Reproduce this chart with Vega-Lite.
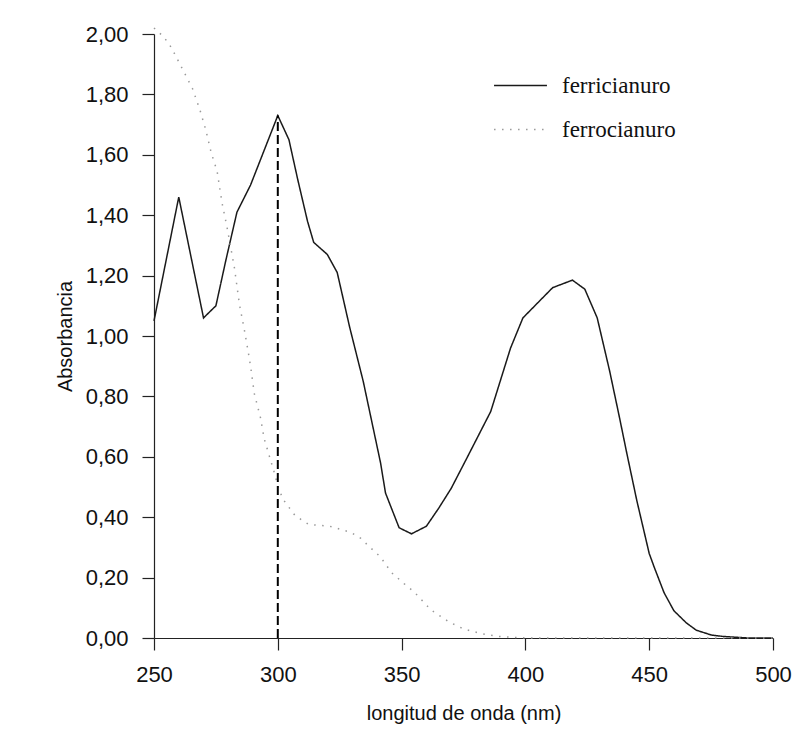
{
  "$schema": "https://vega.github.io/schema/vega-lite/v6.json",
  "width": 619,
  "height": 604,
  "autosize": {"type": "none"},
  "padding": {"left": 154, "top": 34, "right": 36, "bottom": 98},
  "background": "white",
  "config": {
    "view": {"stroke": null},
    "font": "Liberation Sans",
    "axis": {
      "grid": false,
      "domainColor": "#222",
      "tickColor": "#222",
      "labelColor": "#111",
      "titleColor": "#111",
      "labelFont": "Liberation Sans",
      "titleFont": "Liberation Sans",
      "labelFontSize": 22,
      "titleFontSize": 20,
      "titleFontWeight": "normal",
      "tickSize": 12,
      "domainWidth": 1.2,
      "tickWidth": 1.2,
      "labelFlush": false
    },
    "legend": {
      "orient": "none",
      "legendX": 339,
      "legendY": 24,
      "symbolType": "stroke",
      "symbolSize": 2800,
      "symbolStrokeWidth": 1.5,
      "labelFont": "Liberation Serif",
      "labelFontSize": 23,
      "labelColor": "#111",
      "labelOffset": 14,
      "rowPadding": 4
    }
  },
  "datasets": {
    "espectro": [
      {"nm": 250, "abs": 1.05, "serie": "ferricianuro"},
      {"nm": 260, "abs": 1.46, "serie": "ferricianuro"},
      {"nm": 270, "abs": 1.06, "serie": "ferricianuro"},
      {"nm": 275, "abs": 1.10, "serie": "ferricianuro"},
      {"nm": 279, "abs": 1.25, "serie": "ferricianuro"},
      {"nm": 283.5, "abs": 1.41, "serie": "ferricianuro"},
      {"nm": 289, "abs": 1.50, "serie": "ferricianuro"},
      {"nm": 300, "abs": 1.73, "serie": "ferricianuro"},
      {"nm": 304.5, "abs": 1.65, "serie": "ferricianuro"},
      {"nm": 308, "abs": 1.52, "serie": "ferricianuro"},
      {"nm": 312, "abs": 1.38, "serie": "ferricianuro"},
      {"nm": 314.5, "abs": 1.31, "serie": "ferricianuro"},
      {"nm": 320, "abs": 1.27, "serie": "ferricianuro"},
      {"nm": 324, "abs": 1.21, "serie": "ferricianuro"},
      {"nm": 329, "abs": 1.03, "serie": "ferricianuro"},
      {"nm": 334.5, "abs": 0.85, "serie": "ferricianuro"},
      {"nm": 341.5, "abs": 0.58, "serie": "ferricianuro"},
      {"nm": 343.5, "abs": 0.48, "serie": "ferricianuro"},
      {"nm": 349, "abs": 0.365, "serie": "ferricianuro"},
      {"nm": 354, "abs": 0.345, "serie": "ferricianuro"},
      {"nm": 360, "abs": 0.37, "serie": "ferricianuro"},
      {"nm": 365, "abs": 0.43, "serie": "ferricianuro"},
      {"nm": 370, "abs": 0.495, "serie": "ferricianuro"},
      {"nm": 376, "abs": 0.59, "serie": "ferricianuro"},
      {"nm": 381, "abs": 0.67, "serie": "ferricianuro"},
      {"nm": 386, "abs": 0.75, "serie": "ferricianuro"},
      {"nm": 394, "abs": 0.96, "serie": "ferricianuro"},
      {"nm": 399, "abs": 1.06, "serie": "ferricianuro"},
      {"nm": 405, "abs": 1.11, "serie": "ferricianuro"},
      {"nm": 411, "abs": 1.16, "serie": "ferricianuro"},
      {"nm": 419, "abs": 1.185, "serie": "ferricianuro"},
      {"nm": 424, "abs": 1.155, "serie": "ferricianuro"},
      {"nm": 429, "abs": 1.06, "serie": "ferricianuro"},
      {"nm": 434, "abs": 0.885, "serie": "ferricianuro"},
      {"nm": 438, "abs": 0.73, "serie": "ferricianuro"},
      {"nm": 441, "abs": 0.61, "serie": "ferricianuro"},
      {"nm": 445, "abs": 0.455, "serie": "ferricianuro"},
      {"nm": 450, "abs": 0.28, "serie": "ferricianuro"},
      {"nm": 452, "abs": 0.235, "serie": "ferricianuro"},
      {"nm": 456, "abs": 0.15, "serie": "ferricianuro"},
      {"nm": 460, "abs": 0.09, "serie": "ferricianuro"},
      {"nm": 465, "abs": 0.05, "serie": "ferricianuro"},
      {"nm": 469, "abs": 0.026, "serie": "ferricianuro"},
      {"nm": 475, "abs": 0.01, "serie": "ferricianuro"},
      {"nm": 480, "abs": 0.005, "serie": "ferricianuro"},
      {"nm": 490, "abs": 0.0, "serie": "ferricianuro"},
      {"nm": 500, "abs": 0.0, "serie": "ferricianuro"},
      {"nm": 250, "abs": 2.02, "serie": "ferrocianuro"},
      {"nm": 252, "abs": 2.005, "serie": "ferrocianuro"},
      {"nm": 254, "abs": 1.99, "serie": "ferrocianuro"},
      {"nm": 257, "abs": 1.955, "serie": "ferrocianuro"},
      {"nm": 260.5, "abs": 1.90, "serie": "ferrocianuro"},
      {"nm": 265.5, "abs": 1.82, "serie": "ferrocianuro"},
      {"nm": 268.5, "abs": 1.75, "serie": "ferrocianuro"},
      {"nm": 271, "abs": 1.68, "serie": "ferrocianuro"},
      {"nm": 273, "abs": 1.61, "serie": "ferrocianuro"},
      {"nm": 275.5, "abs": 1.545, "serie": "ferrocianuro"},
      {"nm": 277.5, "abs": 1.44, "serie": "ferrocianuro"},
      {"nm": 279.5, "abs": 1.36, "serie": "ferrocianuro"},
      {"nm": 282.5, "abs": 1.225, "serie": "ferrocianuro"},
      {"nm": 284.5, "abs": 1.105, "serie": "ferrocianuro"},
      {"nm": 286.5, "abs": 1.02, "serie": "ferrocianuro"},
      {"nm": 288, "abs": 0.95, "serie": "ferrocianuro"},
      {"nm": 289, "abs": 0.90, "serie": "ferrocianuro"},
      {"nm": 290.5, "abs": 0.81, "serie": "ferrocianuro"},
      {"nm": 293, "abs": 0.73, "serie": "ferrocianuro"},
      {"nm": 294.5, "abs": 0.66, "serie": "ferrocianuro"},
      {"nm": 298.5, "abs": 0.55, "serie": "ferrocianuro"},
      {"nm": 300.5, "abs": 0.49, "serie": "ferrocianuro"},
      {"nm": 302.5, "abs": 0.455, "serie": "ferrocianuro"},
      {"nm": 307, "abs": 0.405, "serie": "ferrocianuro"},
      {"nm": 312.5, "abs": 0.376, "serie": "ferrocianuro"},
      {"nm": 321, "abs": 0.37, "serie": "ferrocianuro"},
      {"nm": 329.5, "abs": 0.35, "serie": "ferrocianuro"},
      {"nm": 333.5, "abs": 0.33, "serie": "ferrocianuro"},
      {"nm": 336, "abs": 0.31, "serie": "ferrocianuro"},
      {"nm": 341.5, "abs": 0.268, "serie": "ferrocianuro"},
      {"nm": 346, "abs": 0.216, "serie": "ferrocianuro"},
      {"nm": 351, "abs": 0.18, "serie": "ferrocianuro"},
      {"nm": 355, "abs": 0.153, "serie": "ferrocianuro"},
      {"nm": 362, "abs": 0.092, "serie": "ferrocianuro"},
      {"nm": 369, "abs": 0.054, "serie": "ferrocianuro"},
      {"nm": 375, "abs": 0.03, "serie": "ferrocianuro"},
      {"nm": 382, "abs": 0.015, "serie": "ferrocianuro"},
      {"nm": 389, "abs": 0.005, "serie": "ferrocianuro"},
      {"nm": 400, "abs": 0.0, "serie": "ferrocianuro"},
      {"nm": 450, "abs": 0.0, "serie": "ferrocianuro"},
      {"nm": 500, "abs": 0.0, "serie": "ferrocianuro"}
    ],
    "pico": [
      {"nm": 300, "desde": 0, "hasta": 1.73}
    ]
  },
  "layer": [
    {
      "data": {"name": "espectro"},
      "mark": {"type": "line", "strokeWidth": 1.5},
      "encoding": {
        "x": {
          "field": "nm",
          "type": "quantitative",
          "scale": {"domain": [250, 500], "nice": false, "zero": false},
          "axis": {
            "values": [250, 300, 350, 400, 450, 500],
            "title": "longitud de onda (nm)",
            "labelPadding": 14,
            "titlePadding": 18
          }
        },
        "y": {
          "field": "abs",
          "type": "quantitative",
          "scale": {"domain": [0, 2], "nice": false, "zero": true},
          "axis": {
            "values": [0, 0.2, 0.4, 0.6, 0.8, 1.0, 1.2, 1.4, 1.6, 1.8, 2.0],
            "labelExpr": "replace(format(datum.value, '.2f'), '.', ',')",
            "title": "Absorbancia",
            "labelPadding": 14,
            "titlePadding": 10
          }
        },
        "color": {
          "field": "serie",
          "type": "nominal",
          "scale": {"domain": ["ferricianuro", "ferrocianuro"], "range": ["#1a1a1a", "#999999"]},
          "legend": {"title": null}
        },
        "strokeDash": {
          "field": "serie",
          "type": "nominal",
          "scale": {"domain": ["ferricianuro", "ferrocianuro"], "range": [[1, 0], [1.5, 6.5]]},
          "legend": {"title": null}
        }
      }
    },
    {
      "data": {"name": "pico"},
      "mark": {"type": "rule", "color": "black", "strokeWidth": 2, "strokeDash": [9, 4]},
      "encoding": {
        "x": {"field": "nm", "type": "quantitative"},
        "y": {"field": "desde", "type": "quantitative"},
        "y2": {"field": "hasta"}
      }
    }
  ]
}
